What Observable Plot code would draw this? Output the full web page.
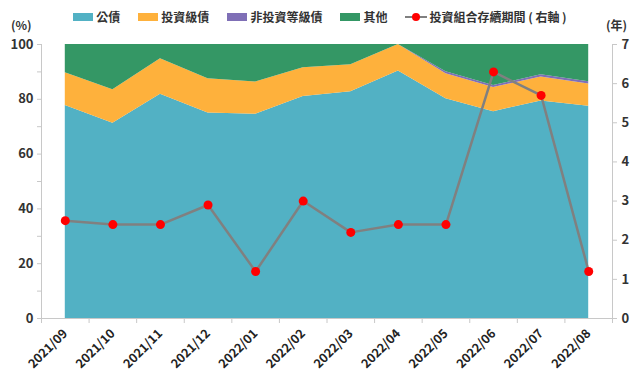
<!DOCTYPE html>
<html><head><meta charset="utf-8">
<script src="https://cdn.jsdelivr.net/npm/d3@7"></script>
<script src="https://cdn.jsdelivr.net/npm/@observablehq/plot@0.6"></script>
<style>
body{margin:0;background:#fff;font-family:"Noto Sans CJK TC","Noto Sans",sans-serif;}
#wrap{position:relative;width:640px;height:381px;overflow:hidden;}
#head{position:relative;height:26px;}
#legend{position:absolute;left:0;right:0;top:10px;display:flex;justify-content:center;gap:0;font-size:12px;font-weight:600;color:#333;line-height:14px;}
.it{display:flex;align-items:center;margin:0 9px;}
.sw{width:20px;height:8px;margin-right:3px;}
.unit{position:absolute;top:16px;font-size:12px;font-weight:600;color:#333;}
</style></head>
<body><div id="wrap"><div id="head"><div id="legend"></div>
<span class="unit" style="left:11px">(%)</span><span class="unit" style="left:606px">(年)</span></div>
<div id="chart"></div></div>
<script>
const categories = ["2021/09","2021/10","2021/11","2021/12","2022/01","2022/02","2022/03","2022/04","2022/05","2022/06","2022/07","2022/08"];
const seriesNames = ["公債","投資級債","非投資等級債","其他"];
const seriesColors = ["#52B1C4","#FEB13C","#7F6FB6","#349765"];
const govBonds = [77.7,71.3,81.8,75.0,74.5,81.0,82.8,90.3,80.2,75.5,79.4,77.5];
const investGrade = [12.0,12.2,13.0,12.5,11.8,10.5,9.8,9.7,9.1,8.8,8.7,8.1];
const highYield = [0,0,0,0,0,0,0,0,0.8,0.7,0.9,0.8];
const others = [10.3,16.5,5.2,12.5,13.7,8.5,7.4,0,9.9,15.0,11.0,13.6];
const duration = [2.5,2.4,2.4,2.9,1.2,3.0,2.2,2.4,2.4,6.3,5.7,1.2];
const lineName = "投資組合存續期間 ( 右軸 )";
const leftTicks = [0,20,40,60,80,100];
const rightTicks = [0,1,2,3,4,5,6,7];
const rightMax = 7;

const seriesValues = [govBonds, investGrade, highYield, others];
const stackData = [];
seriesNames.forEach((s, k) => categories.forEach((c, i) => stackData.push({i, series: s, value: seriesValues[k][i]})));
const lineData = categories.map((c, i) => ({i, dur: duration[i], y: duration[i] * 100 / rightMax}));

// legend
const lg = document.getElementById("legend");
seriesNames.forEach((s, k) => {
  const d = document.createElement("div"); d.className = "it";
  d.innerHTML = `<span class="sw" style="background:${seriesColors[k]}"></span><span>${s}</span>`;
  lg.appendChild(d);
});
const ld = document.createElement("div"); ld.className = "it";
ld.innerHTML = `<svg width="22" height="10" style="margin-right:2px"><line x1="0" x2="22" y1="5" y2="5" stroke="#808080" stroke-width="2"/><circle cx="11" cy="5" r="4" fill="#FF0000"/></svg><span>${lineName}</span>`;
lg.appendChild(ld);

const n = categories.length;
const boundaries = d3.range(n + 1).map(v => v - 0.5);
const axisColor = "#c8c8c8";
const plot = Plot.plot({
  width: 640, height: 355,
  marginLeft: 41, marginRight: 28, marginTop: 18, marginBottom: 63,
  style: {fontFamily: '"Noto Sans CJK TC","Noto Sans",sans-serif', fontSize: "12px", color: "#333"},
  x: {type: "linear", domain: [-0.5, n - 0.5]},
  y: {domain: [0, 100]},
  color: {domain: seriesNames, range: seriesColors},
  marks: [
    Plot.areaY(stackData, {x: "i", y: "value", z: "series", fill: "series", order: seriesNames}),
    Plot.ruleY([0], {stroke: axisColor}),
    Plot.ruleX([-0.5], {stroke: axisColor}),
    Plot.ruleX([n - 0.5], {stroke: axisColor}),
    Plot.axisY({ticks: d3.range(0, 101, 10), tickSize: 4, tickFormat: () => "", stroke: axisColor}),
    Plot.axisY({ticks: leftTicks, tickSize: 0, tickPadding: 8, fontSize: 13, fontWeight: 600, fill: "#333", label: null}),
    Plot.axisY({anchor: "right", ticks: rightTicks.map(v => v * 100 / rightMax), tickSize: 4, tickFormat: () => "", stroke: axisColor}),
    Plot.axisY({anchor: "right", ticks: rightTicks.map(v => v * 100 / rightMax), tickSize: 0, tickPadding: 9, fontSize: 13, fontWeight: 600, fill: "#333", tickFormat: v => Math.round(v * rightMax / 100), label: null}),
    Plot.axisX({ticks: boundaries, tickSize: 5, tickFormat: () => "", stroke: axisColor, label: null}),
    Plot.axisX({ticks: d3.range(n), tickSize: 0, tickPadding: 13, tickRotate: -45, fontSize: 12.5, fontWeight: 600, fill: "#222", tickFormat: i => categories[i], label: null}),
    Plot.line(lineData, {x: "i", y: "y", stroke: "#808080", strokeWidth: 2.5}),
    Plot.dot(lineData, {x: "i", y: "y", r: 4.5, fill: "#FF0000"})
  ]
});
document.getElementById("chart").appendChild(plot);
</script></body></html>
